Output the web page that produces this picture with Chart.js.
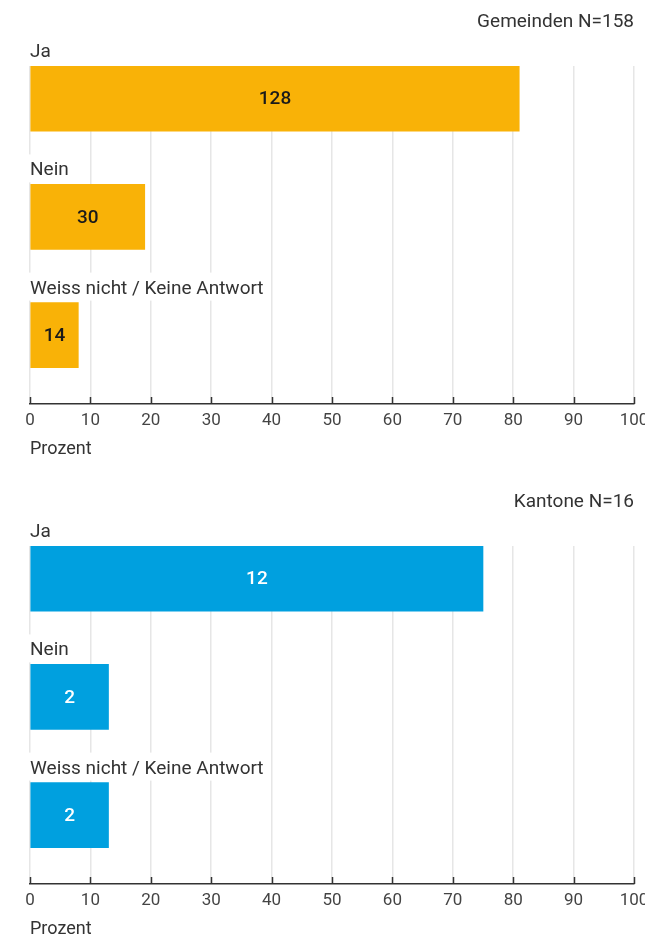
<!DOCTYPE html>
<html lang="de">
<head>
<meta charset="utf-8">
<title>Gemeinden und Kantone</title>
<script src="https://cdn.jsdelivr.net/npm/chart.js@4.4.1/dist/chart.umd.min.js"></script>
<style>
    html, body { margin: 0; padding: 0; background: #fff; overflow: hidden; }
    .box { position: relative; width: 645px; height: 480px; }
</style>
</head>
<body>
<div class="box"><canvas id="gemeindenChart"></canvas></div>
<div class="box"><canvas id="kantoneChart"></canvas></div>
<script>
// data (bar length = percent, label = count)
const categories = ['Ja', 'Nein', 'Weiss nicht / Keine Antwort'];
const positions = [0, 1, 2];
const gemeindenPercent = [81, 19, 8];
const gemeindenCounts = [128, 30, 14];
const kantonePercent = [75, 13, 13];
const kantoneCounts = [12, 2, 2];

const FONT = 'Roboto';
const TEXT = '#333333';

// category labels above bars, counts inside bars, tick marks on the axis
const barLabels = {
    id: 'barLabels',
    beforeDatasetsDraw(chart) {
        const ctx = chart.ctx;
        const meta = chart.getDatasetMeta(0);
        const left = chart.chartArea.left;
        ctx.save();
        ctx.font = '19px ' + FONT;
        ctx.textBaseline = 'alphabetic';
        ctx.textAlign = 'left';
        meta.data.forEach((bar, i) => {
            const top = bar.y - bar.height / 2;
            const text = categories[i];
            const w = ctx.measureText(text).width;
            ctx.fillStyle = '#ffffff';
            ctx.fillRect(left - 2, top - 30, w + 6, 28);
            ctx.fillStyle = TEXT;
            ctx.fillText(text, left, top - 9);
        });
        ctx.restore();
    },
    afterDraw(chart, args, opts) {
        const ctx = chart.ctx;
        const meta = chart.getDatasetMeta(0);
        ctx.save();
        ctx.font = '500 19px ' + FONT;
        ctx.textAlign = 'center';
        ctx.textBaseline = 'middle';
        ctx.fillStyle = opts.color;
        meta.data.forEach((bar, i) => {
            ctx.fillText(String(opts.counts[i]), (bar.x + bar.base) / 2, bar.y + 1);
        });

        const xs = chart.scales.x;
        const bottom = chart.chartArea.bottom;
        ctx.strokeStyle = '#333333';
        ctx.lineWidth = 1.5;
        xs.ticks.forEach(t => {
            const px = Math.round(xs.getPixelForValue(t.value)) + 0.5;
            ctx.beginPath();
            ctx.moveTo(px, bottom - 7);
            ctx.lineTo(px, bottom);
            ctx.stroke();
        });
        ctx.restore();
    }
};

function makeChart(id, title, values, counts, barColor, countColor) {
    const ctx = document.getElementById(id).getContext('2d');
    return new Chart(ctx, {
        type: 'bar',
        data: {
            datasets: [{
                data: positions.map((p, i) => ({ x: values[i], y: p })),
                backgroundColor: barColor,
                borderWidth: 0,
                barThickness: 65
            }]
        },
        plugins: [barLabels],
        options: {
            indexAxis: 'y',
            responsive: true,
            maintainAspectRatio: false,
            animation: false,
            layout: {
                padding: { left: 30, right: 11, top: 0, bottom: 20 }
            },
            plugins: {
                legend: { display: false },
                tooltip: { enabled: false },
                title: {
                    display: true,
                    text: title,
                    align: 'end',
                    color: TEXT,
                    font: { family: FONT, size: 19, weight: 'normal' },
                    padding: { top: 10.6, bottom: 32.6 }
                },
                barLabels: { counts: counts, color: countColor }
            },
            scales: {
                y: {
                    type: 'linear',
                    display: false,
                    offset: false,
                    reverse: true,
                    min: -0.2766,
                    max: 2.583
                },
                x: {
                    min: 0,
                    max: 100,
                    grid: {
                        color: '#e6e6e6',
                        lineWidth: 1.5,
                        drawTicks: false
                    },
                    border: { display: true, color: '#333333', width: 1.5 },
                    ticks: {
                        stepSize: 10,
                        padding: 7,
                        color: '#444444',
                        font: { family: FONT, size: 17 }
                    },
                    title: {
                        display: true,
                        text: 'Prozent',
                        align: 'start',
                        color: TEXT,
                        font: { family: FONT, size: 18 },
                        padding: { top: 0, bottom: 0 }
                    },
                    afterFit: function(scale) {
                        // let the "100" label run off the edge like the original
                        scale.paddingRight = 0;
                        scale.paddingLeft = 0;
                    }
                }
            }
        }
    });
}

makeChart('gemeindenChart', 'Gemeinden N=158', gemeindenPercent, gemeindenCounts, '#F9B207', '#1a1a1a');
makeChart('kantoneChart', 'Kantone N=16', kantonePercent, kantoneCounts, '#00A0DF', '#ffffff');
</script>
</body>
</html>
